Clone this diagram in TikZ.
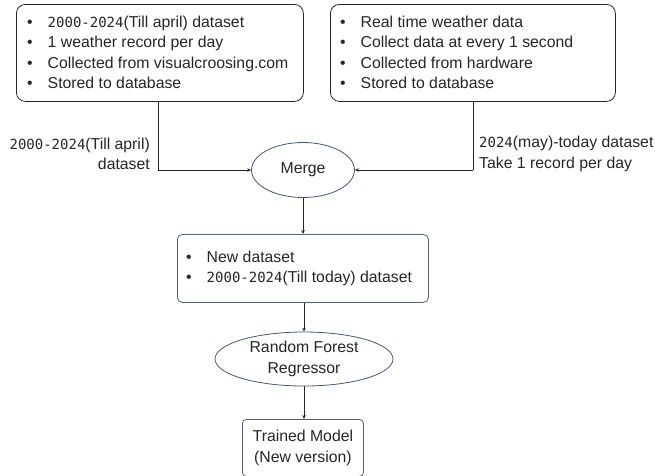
\documentclass[tikz,border=0pt]{standalone}
\usepackage{fontspec}
\setmainfont{Liberation Sans}
\newfontfamily\monof{DejaVu Sans Mono}
\usetikzlibrary{shapes.geometric,arrows.meta}
\newcommand{\dg}[1]{{\monof\fontsize{14}{20.5}\selectfont #1}}
\definecolor{ellc}{HTML}{4A5578}
\definecolor{boxc}{HTML}{5A6278}
\begin{document}
\begin{tikzpicture}[x=1pt,y=-1pt,
  every node/.style={font=\fontsize{15.8}{20.5}\selectfont, text=black!85},
  rbox/.style={draw=black!85, line width=0.8pt, rounded corners=9pt, inner sep=0pt},
  ebox/.style={draw=ellc, line width=0.8pt, ellipse, inner sep=0pt},
  conn/.style={line width=0.8pt, black!85},
  arr/.style={conn, -{Stealth[length=4pt,width=3.5pt]}},
  txt/.style={inner sep=0pt, align=left}]
\useasboundingbox (0,0) rectangle (655,475);
\node[rbox, minimum width=287pt, minimum height=97pt, anchor=north west] (b1) at (16,4) {};
\node[txt, anchor=west] (t1) at (27,54) {%
\begin{tabular}{@{}l@{\hspace{15pt}}l@{}}
\textbullet & \dg{2000-2024}(Till april) dataset\\
\textbullet & 1 weather record per day\\
\textbullet & Collected from visualcroosing.com\\
\textbullet & Stored to database
\end{tabular}};
\node[rbox, minimum width=285pt, minimum height=97pt, anchor=north west] (b2) at (330,4) {};
\node[txt, anchor=west] (t2) at (340,54) {%
\begin{tabular}{@{}l@{\hspace{15pt}}l@{}}
\textbullet & Real time weather data\\
\textbullet & Collect data at every 1 second\\
\textbullet & Collected from hardware\\
\textbullet & Stored to database
\end{tabular}};
\node[ebox, minimum width=103pt, minimum height=55pt] (m) at (303,170) {Merge};
\coordinate (c1b) at (158,170);
\coordinate (c2b) at (473,170);
\draw[conn] (b1.south -| c1b) -- (c1b);
\draw[arr] (c1b) -- (m.west);
\draw[conn] (b2.south -| c2b) -- (c2b);
\draw[arr] (c2b) -- (m.east);
\node[anchor=east, align=right, inner sep=0pt] (l1) at (150,154) {\dg{2000-2024}(Till april)\\dataset};
\node[anchor=west, align=left, inner sep=0pt] (l2) at (479,154) {\dg{2024}(may)-today dataset\\Take 1 record per day};
\node[draw=boxc, line width=0.8pt, rounded corners=5pt, minimum width=251pt, minimum height=68pt, anchor=north west, inner sep=0pt] (b3) at (177,234) {};
\node[txt, anchor=west] (t3) at (186,268.5) {%
\begin{tabular}{@{}l@{\hspace{15pt}}l@{}}
\textbullet & New dataset\\
\textbullet & \dg{2000-2024}(Till today) dataset
\end{tabular}};
\node[ebox, minimum width=178pt, minimum height=54pt, align=center] (rf) at (304,359) {Random Forest\\Regressor};
\node[draw=boxc, line width=0.8pt, rounded corners=4pt, minimum width=121pt, minimum height=57pt, anchor=north west, inner sep=0pt, align=center] (b4) at (242,419) {Trained Model\\(New version)};
\draw[arr] (m.south) -- (b3.north -| m.south);
\draw[arr] (b3.south -| rf.north) -- (rf.north);
\draw[arr] (rf.south) -- (b4.north -| rf.south);
\end{tikzpicture}
\end{document}
